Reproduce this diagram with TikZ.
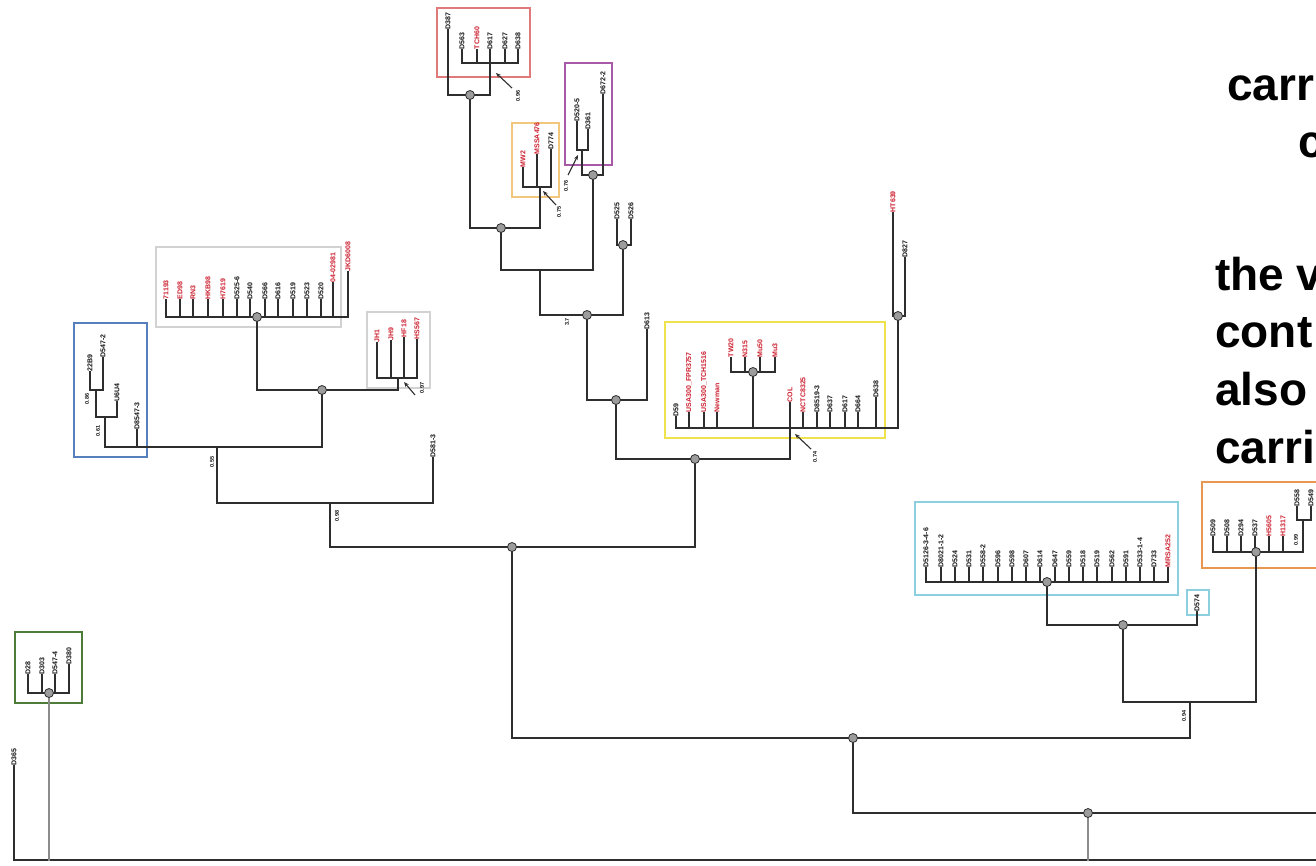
\documentclass[tikz,border=0pt]{standalone}
\usepackage{fontspec}
\setmainfont{Liberation Sans}
\usetikzlibrary{arrows.meta}
\definecolor{ln}{HTML}{2E2E2E}
\definecolor{lng}{HTML}{8C8C8C}
\definecolor{rd}{HTML}{CC1F2F}
\definecolor{bk}{HTML}{141414}
\definecolor{ndf}{HTML}{9C9C9C}
\definecolor{bxred}{HTML}{E07A7A}
\definecolor{bxorg}{HTML}{F3C67E}
\definecolor{bxpur}{HTML}{A85AA8}
\definecolor{bxgry}{HTML}{D2D2D2}
\definecolor{bxblu}{HTML}{5580BD}
\definecolor{bxyel}{HTML}{F0E24C}
\definecolor{bxcya}{HTML}{8CCFDF}
\definecolor{bxortwo}{HTML}{E99650}
\definecolor{bxgrn}{HTML}{4D7C3A}
\tikzset{
 br/.style={draw=ln,line width=1.6pt,line cap=rect},
 brg/.style={draw=lng,line width=1.6pt,line cap=rect},
 lab/.style={rotate=90,anchor=west,inner sep=0.6pt,font=\fontsize{7}{7}\selectfont\bfseries},
 supv/.style={rotate=90,inner sep=0pt,font=\fontsize{5.5}{5.5}\selectfont\bfseries,text=bk},
 jdot/.style={circle,fill=ndf,draw=ln,line width=0.8pt,minimum size=9pt,inner sep=0pt},
 clbox/.style={line width=1.3pt},
 arr/.style={-{Stealth[length=5pt,width=4pt]},draw=ln,line width=1.1pt},
 big/.style={anchor=base west,inner sep=0pt,font=\fontsize{46}{46}\selectfont\bfseries,text=black},
}
\newcommand\lf[6]{\node[lab,text=#5] (#1) at (#2,#3) {#6};\draw[br] (#1.west) -- (#2,#4);}
\begin{document}
\begin{tikzpicture}[x=1pt,y=-1pt]
\useasboundingbox (0,0) rectangle (1316,865);
\clip (0,0) rectangle (1316,865);
\fill[white] (0,0) rectangle (1316,865);

% ---------- boxes
\draw[clbox,bxred] (437,8) rectangle (530,77);
\draw[clbox,bxorg] (512,123) rectangle (559,197);
\draw[clbox,bxpur] (565,63) rectangle (612,165);
\draw[clbox,bxgry] (156,247) rectangle (341,327);
\draw[clbox,bxgry] (367,312) rectangle (430,388);
\draw[clbox,bxblu] (74,323) rectangle (147,457);
\draw[clbox,bxyel] (665,322) rectangle (885,438);
\draw[clbox,bxcya] (915,502) rectangle (1178,595);
\draw[clbox,bxcya] (1187,590) rectangle (1209,615);
\draw[clbox,bxortwo] (1202,482) rectangle (1330,568);
\draw[clbox,bxgrn] (15,632) rectangle (82,703);

% ---------- node coordinates
\coordinate (nG) at (49,693);
\coordinate (nC) at (1088,813);
\coordinate (nB) at (853,738);
\coordinate (nA) at (512,547);
\coordinate (nCy) at (1047,582);
\coordinate (nCyt) at (1123,625);
\coordinate (nO) at (1256,552);
\coordinate (nGG) at (322,390);
\coordinate (nGray) at (257,317);
\coordinate (nY) at (695,459);
\coordinate (nM) at (616,400);
\coordinate (nTop) at (587,315);
\coordinate (nD) at (623,245);
\coordinate (nRO) at (501,228);
\coordinate (nR) at (470,95);
\coordinate (nP) at (593,175);
\coordinate (nHT) at (898,316);
\coordinate (nYi) at (753,372);
\coordinate (rootL) at (14,860);
\coordinate (rootR) at (1330,860);

% ---------- root
\lf{lA}{14}{766}{860}{bk}{D365}
\draw[br] (rootL) -- (rootR);

% green
\lf{g1}{28}{675}{693}{bk}{D28}
\lf{g2}{42}{675}{693}{bk}{D303}
\lf{g3}{55}{675}{693}{bk}{D547-4}
\lf{g4}{69}{665}{693}{bk}{D380}
\draw[br] (g1.west |- nG) -- (g4.west |- nG);
\draw[brg] (nG) -- (nG |- rootL);

% right part
\draw[br] (853,813) -- (1330,813);
\draw[brg] (nC) -- (nC |- rootL);
\draw[br] (nB) -- (853,813);
\draw[br] (512,738) -- (1190,738);
\draw[br] (1190,738) -- (1190,702);
\draw[br] (1123,702) -- (1256,702);
\draw[br] (nCyt) -- (1123,702);
\draw[br] (nO) -- (1256,702);
\draw[br] (1047,625) -- (1197,625);
\draw[br] (nCy) -- (1047,625);
\draw[br] (926,582) -- (1168,582);
\node[supv] (s94) at (1184,716) {0.94};

% cyan
\lf{c1}{926}{568}{582}{bk}{D5126-3-4-6}
\lf{c2}{941}{568}{582}{bk}{D8021-1-2}
\lf{c3}{955}{568}{582}{bk}{D524}
\lf{c4}{969}{568}{582}{bk}{D531}
\lf{c5}{983}{568}{582}{bk}{D558-2}
\lf{c6}{998}{568}{582}{bk}{D596}
\lf{c7}{1012}{568}{582}{bk}{D598}
\lf{c8}{1026}{568}{582}{bk}{D607}
\lf{c9}{1040}{568}{582}{bk}{D614}
\lf{c10}{1055}{568}{582}{bk}{D647}
\lf{c11}{1069}{568}{582}{bk}{D559}
\lf{c12}{1083}{568}{582}{bk}{D518}
\lf{c13}{1097}{568}{582}{bk}{D519}
\lf{c14}{1112}{568}{582}{bk}{D562}
\lf{c15}{1126}{568}{582}{bk}{D591}
\lf{c16}{1140}{568}{582}{bk}{D533-1-4}
\lf{c17}{1154}{568}{582}{bk}{D733}
\lf{c18}{1168}{568}{582}{rd}{MRSA252}
\lf{cs}{1197}{612}{625}{bk}{D574}

% orange right
\draw[br] (1213,552) -- (1303,552);
\lf{q1}{1213}{537}{552}{bk}{D509}
\lf{q2}{1227}{537}{552}{bk}{D508}
\lf{q3}{1241}{537}{552}{bk}{D294}
\lf{q4}{1255}{537}{552}{bk}{D537}
\lf{q5}{1269}{537}{552}{rd}{H5605}
\lf{q6}{1283}{537}{552}{rd}{H1317}
\lf{q7}{1297}{507}{520}{bk}{D558}
\lf{q8}{1311}{507}{520}{bk}{D549}
\draw[br] (1297,520) -- (1311,520);
\draw[br] (1303,520) -- (1303,552);
\node[supv] (s99) at (1296,540) {0.99};

% main left
\draw[br] (nA) -- (512,738);
\draw[br] (330,547) -- (695,547);
\draw[br] (330,503) -- (330,547);
\node[supv] (s98) at (337,516) {0.98};
\lf{lB}{433}{458}{503}{bk}{D581-3}
\draw[br] (217,503) -- (lB.west |- 0,503);
\draw[br] (217,447) -- (217,503);
\node[supv] (s55) at (212,462) {0.55};
\draw[br] (105,447) -- (322,447);
\draw[br] (nGG) -- (322,447);
\draw[br] (257,390) -- (398,390);
\draw[br] (nGray) -- (257,390);
\draw[br] (166,317) -- (348,317);
\draw[br] (377,378) -- (417,378);
\draw[br] (398,378) -- (398,390);

% gray big
\lf{h1}{166}{300}{317}{rd}{71193}
\lf{h2}{180}{300}{317}{rd}{ED98}
\lf{h3}{193}{300}{317}{rd}{RN3}
\lf{h4}{208}{300}{317}{rd}{HKB98}
\lf{h5}{223}{300}{317}{rd}{H7619}
\lf{h6}{237}{300}{317}{bk}{D525-6}
\lf{h7}{250}{300}{317}{bk}{D540}
\lf{h8}{265}{300}{317}{bk}{D566}
\lf{h9}{278}{300}{317}{bk}{D616}
\lf{h10}{293}{300}{317}{bk}{D519}
\lf{h11}{307}{300}{317}{bk}{D523}
\lf{h12}{321}{300}{317}{bk}{D520}
\lf{h13}{333}{283}{317}{rd}{04-02981}
\lf{h14}{348}{272}{317}{rd}{JKD6008}

% gray small
\lf{k1}{377}{343}{378}{rd}{JH1}
\lf{k2}{391}{341}{378}{rd}{JH9}
\lf{k3}{404}{338}{378}{rd}{HF18}
\lf{k4}{417}{340}{378}{rd}{HS567}
\coordinate (aK1) at (415,395);
\coordinate (aK2) at (404,382);
\draw[arr] (aK1) -- (aK2);
\node[supv] (s97) at (422,388) {0.97};

% blue
\lf{b1}{90}{372}{390}{bk}{22B9}
\lf{b2}{103}{358}{390}{bk}{D547-2}
\draw[br] (90,390) -- (103,390);
\draw[br] (96,390) -- (96,417);
\node[supv] (s86) at (87,399) {0.86};
\lf{b3}{117}{402}{417}{bk}{U6U4}
\draw[br] (96,417) -- (117,417);
\draw[br] (105,417) -- (105,447);
\node[supv] (s61) at (98,431) {0.61};
\lf{b4}{137}{430}{447}{bk}{D8547-3}

% upper
\draw[br] (nY) -- (695,547);
\draw[br] (616,459) -- (790,459);
\draw[br] (nM) -- (616,459);
\draw[br] (587,400) -- (647,400);
\lf{lC}{647}{330}{400}{bk}{D613}
\draw[br] (nTop) -- (587,400);
\draw[br] (540,315) -- (623,315);
\draw[br] (nD) -- (623,315);
\draw[br] (617,245) -- (631,245);
\lf{d1}{617}{220}{245}{bk}{D525}
\lf{d2}{631}{220}{245}{bk}{D526}
\draw[br] (540,270) -- (540,315);
\node[supv] (s37) at (567,322) {3.7};
\draw[br] (501,270) -- (593,270);
\draw[br] (nRO) -- (501,270);
\draw[br] (470,228) -- (540,228);
\draw[br] (nR) -- (470,228);
\draw[br] (540,187) -- (540,228);
\draw[br] (nP) -- (593,270);

% red box
\lf{r1}{448}{30}{95}{bk}{D387}
\lf{r2}{462}{50}{63}{bk}{D563}
\lf{r3}{477}{50}{63}{rd}{TCH60}
\lf{r4}{490}{50}{63}{bk}{D617}
\lf{r5}{505}{50}{63}{bk}{D627}
\lf{r6}{518}{50}{63}{bk}{D638}
\draw[br] (448,95) -- (490,95);
\draw[br] (462,63) -- (518,63);
\draw[br] (490,63) -- (490,95);
\coordinate (aR1) at (512,88);
\coordinate (aR2) at (496,73);
\draw[arr] (aR1) -- (aR2);
\node[supv] (s96) at (518,96) {0.96};

% orange small
\lf{o1}{523}{168}{187}{rd}{MW2}
\lf{o2}{537}{155}{187}{rd}{MSSA476}
\lf{o3}{551}{150}{187}{bk}{D774}
\draw[br] (523,187) -- (551,187);
\coordinate (aO1) at (556,205);
\coordinate (aO2) at (543,191);
\draw[arr] (aO1) -- (aO2);
\node[supv] (s75) at (559,212) {0.75};

% purple
\lf{p1}{577}{122}{150}{bk}{D520-5}
\lf{p2}{588}{130}{150}{bk}{D361}
\draw[br] (577,150) -- (588,150);
\draw[br] (582,150) -- (582,175);
\lf{p3}{603}{95}{175}{bk}{D672-2}
\draw[br] (582,175) -- (603,175);
\coordinate (aP1) at (568,175);
\coordinate (aP2) at (578,155);
\draw[arr] (aP1) -- (aP2);
\node[supv] (s76) at (566,186) {0.76};

% yellow
\draw[br] (676,428) -- (898,428);
\draw[br] (nHT) -- (898,428);
\draw[br] (893,316) -- (905,316);
\lf{t1}{893}{213}{316}{rd}{HT639}
\lf{t2}{905}{258}{316}{bk}{D827}
\draw[br] (nYi) -- (753,428);
\draw[br] (731,372) -- (775,372);
\lf{y1}{676}{417}{428}{bk}{D59}
\lf{y2}{689}{413}{428}{rd}{USA300\_FPR3757}
\lf{y3}{704}{413}{428}{rd}{USA300\_TCH1516}
\lf{y4}{717}{413}{428}{rd}{Newman}
\lf{i1}{731}{358}{372}{rd}{TW20}
\lf{i2}{745}{358}{372}{rd}{N315}
\lf{i3}{760}{358}{372}{rd}{Mu50}
\lf{i4}{775}{358}{372}{rd}{Mu3}
\lf{y5}{790}{403}{459}{rd}{COL}
\lf{y6}{803}{413}{428}{rd}{NCTC8325}
\lf{y7}{817}{413}{428}{bk}{D8519-3}
\lf{y8}{830}{413}{428}{bk}{D637}
\lf{y9}{845}{413}{428}{bk}{D617}
\lf{y10}{858}{413}{428}{bk}{D664}
\lf{y11}{876}{398}{428}{bk}{D638}
\coordinate (aY1) at (811,449);
\coordinate (aY2) at (795,434);
\draw[arr] (aY1) -- (aY2);
\node[supv] (s74) at (815,457) {0.74};

% ---------- node dots
\foreach \n in {nG,nC,nB,nA,nCy,nCyt,nO,nGG,nGray,nY,nM,nTop,nD,nRO,nR,nP,nHT,nYi}
  \node[jdot] at (\n) {};

% ---------- text on the right
\node[big] (tx1) at (1227,100) {carr};
\node[big] (tx2) at (1298,157) {c};
\node[big] (tx3) at (1215,290) {the v};
\node[big] (tx4) at (1215,347) {cont};
\node[big] (tx5) at (1215,405) {also};
\node[big] (tx6) at (1215,463) {carri};
\end{tikzpicture}
\end{document}
